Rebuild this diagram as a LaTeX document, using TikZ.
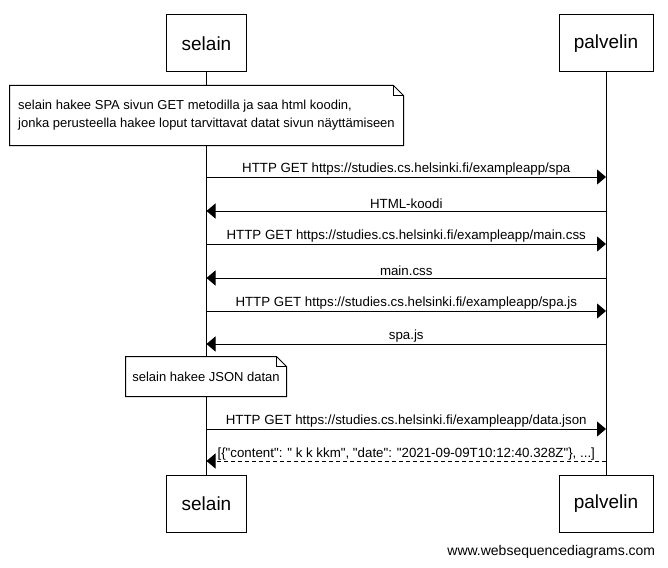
\documentclass[tikz,border=0pt]{standalone}
\usepackage{fontspec}
\setmainfont{Liberation Sans}[Ligatures=TeXOff]
\usetikzlibrary{arrows.meta}

% outline of a note with a folded corner
\newcommand\notebox[1]{%
  \draw (#1.north west) -- ([xshift=-10pt]#1.north east) -- ([yshift=-10pt]#1.north east)
    -- (#1.south east) -- (#1.south west) -- cycle;
  \draw ([xshift=-10pt]#1.north east) |- ([yshift=-10pt]#1.north east);}

\begin{document}
\begin{tikzpicture}
	[x=1pt,y=-1pt,line width=1pt,font=\fontsize{13.3}{16}\selectfont,
	actor/.style={draw,fill=white,minimum height=57pt,inner sep=0pt,font=\fontsize{19}{22}\selectfont},
	note/.style={fill=white,align=left,inner sep=0pt,font=\fontsize{13}{16}\selectfont},
	msg/.style={-{Triangle[length=9pt,width=15pt]}},
	reply/.style={msg,dash pattern=on 4pt off 3pt},
	lbl/.style={above,inner sep=1.5pt}]
	\useasboundingbox (0,0) rectangle (668,567);
	
	\node[actor,minimum width=80pt] (selain) at (206.5,43.5) {selain};
	\node[actor,minimum width=94pt] (palvelin) at (606,43.5) {palvelin};
	\node[actor,minimum width=80pt] (selain2) at (206.5,504) {selain};
	\node[actor,minimum width=94pt] (palvelin2) at (606,504) {palvelin};
	
	\draw (selain) -- (selain2);
	\draw (palvelin) -- (palvelin2);
	
	\node[note,minimum width=393pt,minimum height=59pt] (note1) at (206.5,115.5)
		{selain hakee SPA sivun GET metodilla ja saa html koodin,\\[2pt]
		jonka perusteella hakee loput tarvittavat datat sivun näyttämiseen};
	\notebox{note1}
	\node[note,minimum width=160pt,minimum height=39pt] (note2) at (206,376.5) {selain hakee JSON datan};
	\notebox{note2}
	
	\foreach \i/\y in {1/177,2/211,3/244,4/278,5/311,6/344,7/429,8/461}{
		\coordinate (s\i) at (selain |- 0,\y);
		\coordinate (p\i) at (palvelin |- 0,\y);
	}
	
	\draw[msg] (s1) -- node[lbl] {HTTP GET https://studies.cs.helsinki.fi/exampleapp/spa} (p1);
	\draw[msg] (p2) -- node[lbl] {HTML-koodi} (s2);
	\draw[msg] (s3) -- node[lbl] {HTTP GET https://studies.cs.helsinki.fi/exampleapp/main.css} (p3);
	\draw[msg] (p4) -- node[lbl] {main.css} (s4);
	\draw[msg] (s5) -- node[lbl] {HTTP GET https://studies.cs.helsinki.fi/exampleapp/spa.js} (p5);
	\draw[msg] (p6) -- node[lbl] {spa.js} (s6);
	\draw[msg] (s7) -- node[lbl] {HTTP GET https://studies.cs.helsinki.fi/exampleapp/data.json} (p7);
	\draw[reply] (p8) -- node[lbl,inner sep=0.5pt] {[\{"content": " k k kkm", "date": "2021-09-09T10:12:40.328Z"\}, ...]} (s8);
	
	\node[anchor=east,font=\fontsize{14}{16}\selectfont] (credit) at (659,552) {www.websequencediagrams.com};
\end{tikzpicture}
\end{document}
